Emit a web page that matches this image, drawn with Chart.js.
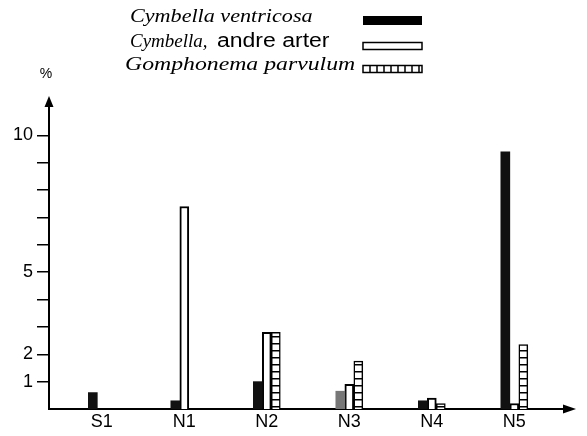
<!DOCTYPE html>
<html>
<head>
<meta charset="utf-8">
<script src="https://cdn.jsdelivr.net/npm/chart.js@4"></script>
<style>
  html, body { margin: 0; padding: 0; background: #fff; }
</style>
</head>
<body>
<canvas id="myChart" width="587" height="436"></canvas>
<script>
// data (percent)
const sites = ['S1', 'N1', 'N2', 'N3', 'N4', 'N5']
const ventricosa = [0.6, 0.3, 1.0, 0.65, 0.3, 9.4]
const andreArter = [0, 7.4, 2.8, 0.9, 0.4, 0.2]
const parvulum = [0, 0, 2.8, 1.75, 0.2, 2.35]
const yTicks = [1, 2, 3, 4, 5, 6, 7, 8, 9, 10]
const yLabels = [1, 2, 5, 10]

const ctx = document.getElementById('myChart').getContext('2d')

Chart.defaults.font.family = '"Liberation Sans", Arial, sans-serif'
Chart.defaults.color = '#000'

// ladder fill for Gomphonema
const pc = document.createElement('canvas')
pc.width = 8
pc.height = 7
const pctx = pc.getContext('2d')
pctx.fillStyle = '#fff'
pctx.fillRect(0, 0, 8, 7)
pctx.fillStyle = '#000'
pctx.fillRect(0, 0, 8, 1.5)
const ladder = ctx.createPattern(pc, 'repeat')

const toPoints = arr => arr.map((v, i) => ({ x: i + 1, y: v }))

// legend text in the scan is a bit wider than the installed fonts
function wideText(c, text, x, y, font, sx) {
    c.save()
    c.font = font
    c.translate(x, y)
    c.scale(sx, 1)
    c.fillText(text, 0, 0)
    c.restore()
}

const extras = {
    id: 'extras',
    afterDraw(chart) {
        const { ctx, chartArea: a } = chart
        ctx.save()
        ctx.fillStyle = '#000'
        ctx.strokeStyle = '#000'

        // arrow heads
        ctx.beginPath()
        ctx.moveTo(a.left, a.top - 12)
        ctx.lineTo(a.left - 4.5, a.top - 1)
        ctx.lineTo(a.left + 4.5, a.top - 1)
        ctx.closePath()
        ctx.fill()
        ctx.beginPath()
        ctx.moveTo(a.right + 13, a.bottom)
        ctx.lineTo(a.right, a.bottom - 4.5)
        ctx.lineTo(a.right, a.bottom + 4.5)
        ctx.closePath()
        ctx.fill()

        // unit
        ctx.font = '14px "Liberation Sans"'
        ctx.textAlign = 'center'
        ctx.textBaseline = 'middle'
        ctx.fillText('%', a.left - 3, 74)

        // legend
        ctx.textAlign = 'left'
        ctx.textBaseline = 'alphabetic'
        const serif = 'italic 19px "Liberation Serif"'
        wideText(ctx, 'Cymbella ventricosa', 130, 22, serif, 1.165)
        wideText(ctx, 'Cymbella,', 130, 47, serif, 1.0)
        wideText(ctx, 'andre arter', 217, 47, '20px "Liberation Sans"', 1.15)
        wideText(ctx, 'Gomphonema parvulum', 125, 70, serif, 1.25)

        const sx = 363, sw = 59
        ctx.fillRect(sx, 16, sw, 9)
        ctx.lineWidth = 1.5
        ctx.strokeRect(sx, 42.5, sw, 7)
        ctx.strokeRect(sx, 65.5, sw, 7)
        ctx.beginPath()
        for (let x = sx + 7; x < sx + sw; x += 7) {
            ctx.moveTo(x, 65.5)
            ctx.lineTo(x, 72.5)
        }
        ctx.stroke()
        ctx.restore()
    }
}

const data = {
    datasets: [
        {
            label: 'Cymbella ventricosa',
            data: toPoints(ventricosa),
            backgroundColor: ['#111', '#111', '#111', '#777', '#111', '#111'],
            borderColor: '#111',
            borderWidth: 0,
        },
        {
            label: 'Cymbella, andre arter',
            data: toPoints(andreArter),
            backgroundColor: '#fff',
            borderColor: '#000',
            borderWidth: 2,
        },
        {
            label: 'Gomphonema parvulum',
            data: toPoints(parvulum),
            backgroundColor: ladder,
            borderColor: '#000',
            borderWidth: 1.5,
        },
    ],
}

const config = {
    type: 'bar',
    data: data,
    plugins: [extras],
    options: {
        responsive: false,
        animation: false,
        barThickness: 9,
        layout: { padding: { top: 108, right: 24, left: 0, bottom: 0 } },
        plugins: {
            legend: { display: false },
            tooltip: { enabled: false },
        },
        scales: {
            x: {
                type: 'linear',
                min: 0.36,
                max: 6.59,
                offset: false,
                afterBuildTicks: s => { s.ticks = sites.map((c, i) => ({ value: i + 1 })) },
                afterFit: s => { s.height = 27 },
                ticks: {
                    callback: (v, i) => sites[i],
                    autoSkip: false,
                    maxRotation: 0,
                    padding: 2,
                    font: { size: 18 },
                },
                grid: { display: false, drawTicks: false, offset: false },
                border: { color: '#000', width: 2 },
            },
            y: {
                min: 0,
                max: 11,
                afterBuildTicks: s => { s.ticks = yTicks.map(v => ({ value: v })) },
                afterFit: s => { s.width = 49 },
                ticks: {
                    callback: v => yLabels.includes(v) ? v : '',
                    padding: 4,
                    font: { size: 18 },
                },
                grid: { drawOnChartArea: false, tickLength: 12, color: '#000', lineWidth: 1.5 },
                border: { color: '#000', width: 2 },
            },
        },
    },
}

const myChart = new Chart(ctx, config)
</script>
</body>
</html>
